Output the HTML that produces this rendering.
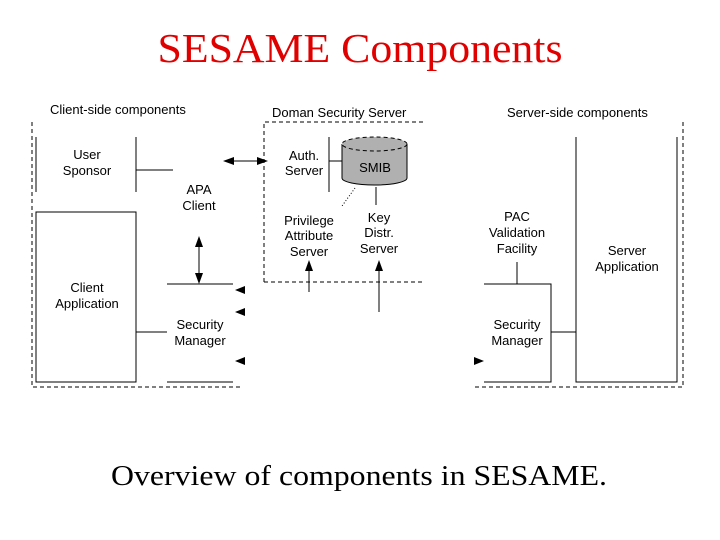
<!DOCTYPE html>
<html><head><style>
html,body{margin:0;padding:0;background:#fff;}
svg{display:block;}
text{font-family:"Liberation Sans",sans-serif;font-size:13px;fill:#000;}
.s{font-family:"Liberation Serif",serif;}
</style></head><body>
<svg width="720" height="540" viewBox="0 0 720 540" xmlns="http://www.w3.org/2000/svg">
<text class="s" x="360" y="62" text-anchor="middle" style="font-size:41px;fill:#e00000" textLength="405" lengthAdjust="spacingAndGlyphs">SESAME Components</text>
<text class="s" x="359" y="485" text-anchor="middle" style="font-size:28px" textLength="496" lengthAdjust="spacingAndGlyphs">Overview of components in SESAME.</text>

<g stroke="#000" stroke-width="1" fill="none">
<!-- dashed containers -->
<g stroke-dasharray="4,3">
<path d="M32 122 V387 H242"/>
<path d="M264 282 V122 H423 M264 282 H423"/>
<path d="M683 122 V387 H472"/>
</g>
<!-- client side -->
<path d="M36 137 V192 M136 137 V192 M136 170 H173"/>
<rect x="36" y="212" width="100" height="170"/>
<path d="M136 332 H167 M167 284 H233 M167 382 H233"/>
<path d="M199 242 V278"/>
<path d="M228 161 H263"/>
<!-- domain -->
<path d="M329 137 V192 M329 161 H342"/>
<path d="M376 187 V205"/>
<path d="M355 188 L342 206" stroke-dasharray="1,2"/>
<path d="M309 292 V266 M379 312 V266"/>
<!-- server side -->
<path d="M576 137 V382 H677 V137"/>
<path d="M484 284 H551 V382 H484 M551 332 H576 M517 262 V284"/>
</g>
<!-- SMIB cylinder -->
<path d="M342 144 V178 A32.5 7 0 0 0 407 178 V144" fill="#b0b0b0" stroke="#000"/>
<ellipse cx="374.5" cy="144" rx="32.5" ry="7" fill="#b0b0b0" stroke="#000" stroke-dasharray="4,3"/>
<!-- arrowheads -->
<g fill="#000">
<polygon points="223,161 234,157 234,165"/>
<polygon points="268,161 257,157 257,165"/>
<polygon points="199,236 195,247 203,247"/>
<polygon points="199,284 195,273 203,273"/>
<polygon points="235,290 245,286 245,294"/>
<polygon points="235,312 245,308 245,316"/>
<polygon points="235,361 245,357 245,365"/>
<polygon points="309,260 305,271 313,271"/>
<polygon points="379,260 375,271 383,271"/>
<polygon points="484,361 474,357 474,365"/>
</g>
<!-- labels -->
<text x="50" y="114">Client-side components</text>
<text x="272" y="117">Doman Security Server</text>
<text x="507" y="117">Server-side components</text>
<g text-anchor="middle">
<text x="87" y="159">User</text><text x="87" y="175">Sponsor</text>
<text x="199" y="194">APA</text><text x="199" y="210">Client</text>
<text x="87" y="292">Client</text><text x="87" y="308">Application</text>
<text x="200" y="329">Security</text><text x="200" y="345">Manager</text>
<text x="304" y="160">Auth.</text><text x="304" y="175">Server</text>
<text x="375" y="172">SMIB</text>
<text x="309" y="225">Privilege</text><text x="309" y="240">Attribute</text><text x="309" y="256">Server</text>
<text x="379" y="222">Key</text><text x="379" y="237">Distr.</text><text x="379" y="253">Server</text>
<text x="517" y="221">PAC</text><text x="517" y="237">Validation</text><text x="517" y="253">Facility</text>
<text x="627" y="255">Server</text><text x="627" y="271">Application</text>
<text x="517" y="329">Security</text><text x="517" y="345">Manager</text>
</g>
</svg>
</body></html>
